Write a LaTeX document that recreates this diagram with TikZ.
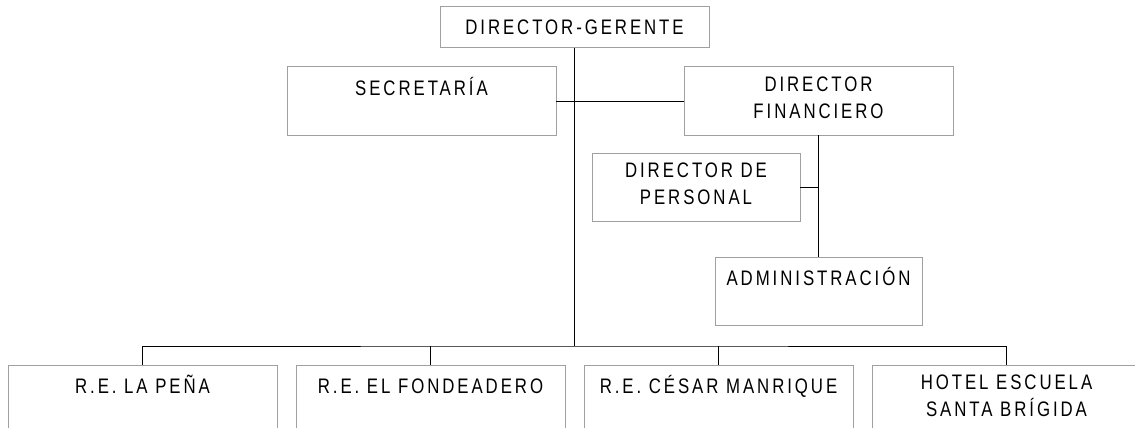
\documentclass[tikz,border=0pt]{standalone}
\usepackage{fontspec}
\usetikzlibrary{positioning,calc}
\newfontfamily\orgfont[FakeStretch=0.8,LetterSpace=14]{Liberation Sans}
\definecolor{gris}{HTML}{A0A0A0}

\begin{document}
\begin{tikzpicture}[x=1pt,y=-1pt]
	% estilos del organigrama
	\tikzstyle{caja} = [rectangle, draw=gris, line width=1pt, minimum width=269pt, minimum height=68pt, anchor=north west, inner sep=0pt, outer sep=0pt]	% cajas
	\tikzstyle{rotulo} = [anchor=north, yshift=-10pt, align=center, inner sep=0pt, font=\orgfont\fontsize{21}{26.5}\selectfont, execute at begin node=\strut]	% textos arriba
	\tikzstyle{linea} = [line width=1pt, black]	% lineas de union
	\useasboundingbox (0,0) rectangle (1135,428);

	\node (dg) [caja, minimum height=41pt, font=\orgfont\fontsize{21}{26.5}\selectfont] at (440,7) {DIRECTOR-GERENTE};
	\node (sec) [caja, label={[rotulo]north:SECRETARÍA}] at (287,67) {};
	\node (fin) [caja, label={[rotulo]north:DIRECTOR\\FINANCIERO}] at (684,67) {};
	\node (per) [caja, minimum width=208pt, label={[rotulo]north:DIRECTOR DE\\PERSONAL}] at (592,153) {};
	\node (adm) [caja, minimum width=207pt, label={[rotulo]north:ADMINISTRACIÓN}] at (715,257) {};
	\node (re1) [caja, label={[rotulo]north:R.E. LA PEÑA}] at (8,365) {};
	\node (re2) [caja, right=19pt of re1, label={[rotulo]north:R.E. EL FONDEADERO}] {};
	\node (re3) [caja, right=19pt of re2, label={[rotulo]north:R.E. CÉSAR MANRIQUE}] {};
	\node (re4) [caja, right=19pt of re3, label={[rotulo]north:HOTEL ESCUELA\\SANTA BRÍGIDA}] {};
	\coordinate (bus) at ([yshift=19pt]re1.north -| dg.south);

	% uniones
	\draw [linea] (dg.south) -- (bus);
	\draw [linea] (sec.east) -- (fin.west);
	\draw [linea] (fin.south) -- (adm.north);
	\draw [linea] (per.east) -- (per.east -| fin.south);
	\draw [linea] (re1.north) |- (bus) -| (re4.north);
	\draw [linea] (re2.north) -- (re2.north |- bus);
	\draw [linea] (re3.north) -- (re3.north |- bus);
\end{tikzpicture}
\end{document}
